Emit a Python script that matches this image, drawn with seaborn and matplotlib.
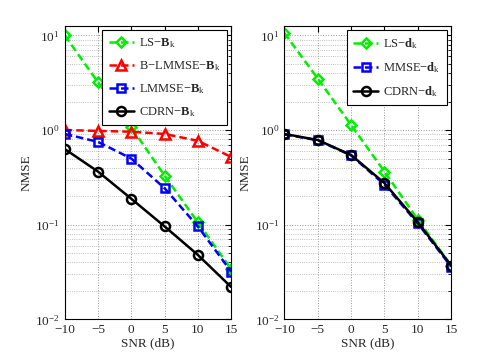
import numpy as np
import pandas as pd
import matplotlib
matplotlib.use("Agg")
import matplotlib.pyplot as plt
import seaborn as sns
from matplotlib.ticker import LogLocator, NullFormatter

snr = [-10, -5, 0, 5, 10, 15]

# Left panel (B_k)
ls_B = [10.0, 3.2, 1.07, 0.33, 0.106, 0.034]
blmmse_B = [1.0, 0.98, 0.96, 0.91, 0.77, 0.52]
lmmse_B = [0.91, 0.75, 0.50, 0.243, 0.096, 0.032]
cdrn_B = [0.63, 0.364, 0.188, 0.096, 0.048, 0.022]

# Right panel (d_k)
ls_d = [10.6, 3.5, 1.13, 0.364, 0.113, 0.037]
mmse_d = [0.90, 0.78, 0.54, 0.265, 0.103, 0.036]
cdrn_d = [0.91, 0.785, 0.545, 0.275, 0.106, 0.037]

labels_left = [r'LS$-\mathbf{B}_\mathrm{k}$', r'B$-$LMMSE$-\mathbf{B}_\mathrm{k}$',
               r'LMMSE$-\mathbf{B}_\mathrm{k}$', r'CDRN$-\mathbf{B}_\mathrm{k}$']
labels_right = [r'LS$-\mathbf{d}_\mathrm{k}$', r'MMSE$-\mathbf{d}_\mathrm{k}$',
                r'CDRN$-\mathbf{d}_\mathrm{k}$']

sns.set_style("white")
plt.rcParams['font.family'] = ['Liberation Serif', 'DejaVu Serif']
plt.rcParams['mathtext.fontset'] = 'custom'
plt.rcParams['mathtext.rm'] = 'Liberation Serif'
plt.rcParams['mathtext.it'] = 'Liberation Serif:italic'
plt.rcParams['mathtext.bf'] = 'Liberation Serif:bold'

fig = plt.figure(figsize=(4.98, 3.6), dpi=100)
ax1 = fig.add_axes([0.130, 0.113, 0.334, 0.815])
ax2 = fig.add_axes([0.571, 0.113, 0.335, 0.815])

green = '#00ee00'
styles_left = [
    (ls_B, green, True, 'D', 5),
    (blmmse_B, '#ff0000', True, '^', 7.5),
    (lmmse_B, '#0000ff', True, 's', 5.5),
    (cdrn_B, 'black', False, 'o', 6.5),
]
styles_right = [
    (ls_d, green, True, 'D', 5),
    (mmse_d, '#0000ff', True, 's', 5.5),
    (cdrn_d, 'black', False, 'o', 6.5),
]

def draw(ax, styles, labels):
    for (vals, col, dashed, mk, ms), lab in zip(styles, labels):
        df = pd.DataFrame({'snr': snr, 'nmse': vals})
        sns.lineplot(data=df, x='snr', y='nmse', ax=ax, color=col,
                     marker=mk, markersize=ms, markerfacecolor='none',
                     markeredgecolor=col, markeredgewidth=1.8, linewidth=1.8,
                     label=lab)
        line = ax.lines[-1]
        if dashed:
            line.set_dashes((3, 1.6))
        else:
            line.set_linestyle('-')
    ax.set_yscale('log')
    ax.set_xlim(-10, 15)
    ax.set_ylim(1e-2, 12.6)
    ax.set_xticks([-10, -5, 0, 5, 10, 15])
    ax.set_xticklabels(['\u221210', '\u22125', '0', '5', '10', '15'])
    ax.yaxis.set_major_locator(LogLocator(base=10, numticks=10))
    ax.yaxis.set_minor_locator(LogLocator(base=10, subs=np.arange(2, 10), numticks=20))
    ax.yaxis.set_minor_formatter(NullFormatter())
    ax.grid(True, which='major', linestyle=':', color='#999999', linewidth=0.7)
    ax.grid(True, which='minor', axis='y', linestyle=':', color='#aaaaaa', linewidth=0.6)
    ax.tick_params(which='both', direction='in', top=True, right=True, labelsize=9.5,
                   color='black')
    ax.tick_params(which='major', length=4)
    ax.tick_params(which='minor', length=2)
    for sp in ax.spines.values():
        sp.set_color('black')
        sp.set_linewidth(0.8)
    ax.set_xlabel('SNR (dB)', fontsize=9.5, labelpad=1)
    ax.set_ylabel('NMSE', fontsize=9.5, labelpad=2)
    leg = ax.legend(loc='upper right', fontsize=9, frameon=True, fancybox=False,
                    framealpha=1, edgecolor='black', handlelength=2.0,
                    borderaxespad=0.35, labelspacing=0.72, handletextpad=0.4,
                    borderpad=0.5)
    leg.get_frame().set_linewidth(0.8)

draw(ax1, styles_left, labels_left)
draw(ax2, styles_right, labels_right)

fig.savefig('out.png', dpi=100)
